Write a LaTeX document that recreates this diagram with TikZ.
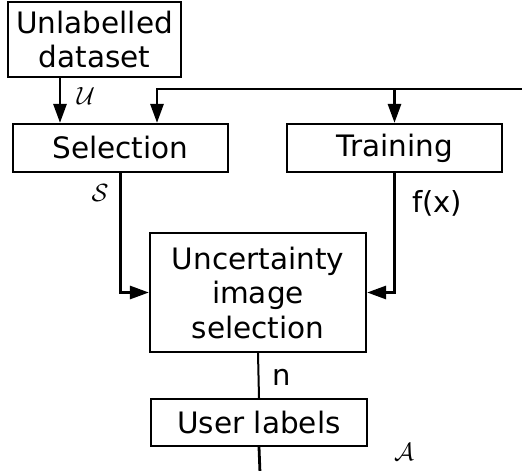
\documentclass[tikz,border=0pt]{standalone}
\usepackage{fontspec}
\setmainfont{DejaVu Sans}
\usetikzlibrary{arrows.meta}
\begin{document}
\begin{tikzpicture}[x=1pt,y=-1pt,
  box/.style={draw,line width=2.2pt,rectangle,inner sep=0pt,align=center,
    font=\fontsize{29.5}{34.5}\selectfont},
  conn/.style={line width=2.8pt},
  arr/.style={conn,-{Triangle[length=19pt,width=13pt]}},
  lbl/.style={inner sep=0pt,font=\fontsize{29}{34}\selectfont},
  mlbl/.style={inner sep=0pt,font=\fontsize{27}{31}\selectfont}]
\useasboundingbox (0,0) rectangle (522,471);
\node[box,minimum width=173pt,minimum height=75pt] (ud) at (94.5,39.5) {Unlabelled\\dataset};
\node[box,minimum width=215pt,minimum height=48pt] (sel) at (120.5,148) {Selection};
\node[box,minimum width=215pt,minimum height=48pt] (tr) at (394.5,148) {Training};
\node[box,minimum width=216pt,minimum height=119pt] (unc) at (258,292.5) {Uncertainty\\image\\selection};
\node[box,minimum width=216pt,minimum height=47pt] (ul) at (259,422.5) {User labels};
\coordinate (a1) at (60,0);
\coordinate (in) at (524,89);
\coordinate (fb) at (157,89);
\coordinate (out) at (260,473);
\draw[arr] (ud.south -| a1) -- (sel.north -| a1);
\draw[arr] (in) -- (fb) -- (fb |- sel.north);
\draw[arr] (tr.north |- in) -- (tr.north);
\draw[arr] (sel.south) |- (unc.west);
\draw[arr] (tr.south) |- (unc.east);
\draw[conn,line width=2pt] (unc.south) -- (ul.north);
\draw[conn] (ul.south) -- (out);
\node[mlbl] (lu) at (86,96) {$\mathcal{U}$};
\node[mlbl] (ls) at (100,193) {$\mathcal{S}$};
\node[lbl] (lf) at (437,203) {f(x)};
\node[lbl] (ln) at (282,377) {n};
\node[mlbl] (la) at (404,452) {$\mathcal{A}$};
\end{tikzpicture}
\end{document}
